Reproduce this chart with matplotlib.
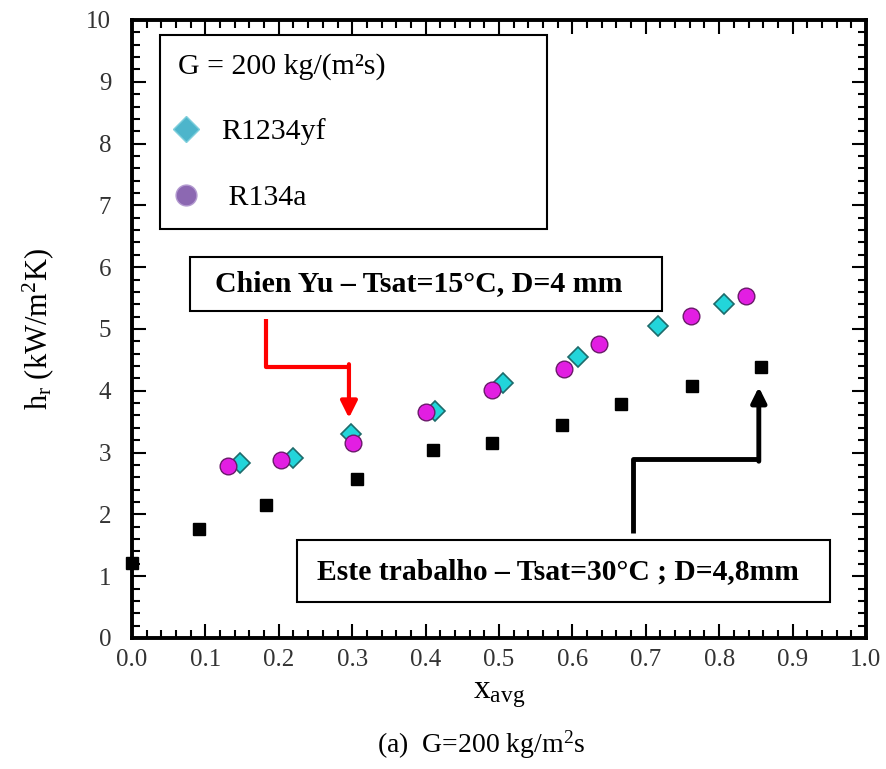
import matplotlib
matplotlib.use("Agg")
import matplotlib.pyplot as plt
from matplotlib.patches import Rectangle
from matplotlib.lines import Line2D
from matplotlib.ticker import MultipleLocator

# Chien Yu data (Tsat=15C, D=4 mm)
x_r1234yf = [0.147, 0.219, 0.298, 0.413, 0.505, 0.608, 0.716, 0.807]
h_r1234yf = [2.83, 2.92, 3.30, 3.68, 4.12, 4.54, 5.05, 5.40]
x_r134a = [0.131, 0.203, 0.301, 0.400, 0.490, 0.588, 0.636, 0.762, 0.836]
h_r134a = [2.78, 2.88, 3.15, 3.65, 4.02, 4.36, 4.76, 5.21, 5.54]
# this work (Tsat=30C, D=4.8 mm)
x_este = [0.0, 0.091, 0.183, 0.307, 0.410, 0.491, 0.586, 0.666, 0.763, 0.857]
h_este = [1.22, 1.76, 2.15, 2.57, 3.04, 3.16, 3.45, 3.78, 4.08, 4.39]

plt.rcParams['font.family'] = ['Liberation Serif', 'DejaVu Serif']
plt.rcParams['mathtext.fontset'] = 'custom'
plt.rcParams['mathtext.rm'] = 'Liberation Serif'
plt.rcParams['mathtext.it'] = 'Liberation Serif'

fig = plt.figure(figsize=(8.87, 7.69), dpi=100)
ax = fig.add_axes([0.1488, 0.1704, 0.8275, 0.8036])

ax.plot(x_r1234yf, h_r1234yf, 'D', ms=10, mfc='#22D5DA', mec='#1E6B6B', mew=1.2, ls='none', zorder=3)
ax.plot(x_r134a, h_r134a, 'o', ms=12, mfc='#E21EE2', mec='#6A1A6A', mew=1.0, ls='none', zorder=4)
ax.plot(x_este, h_este, 's', ms=8, color='black', ls='none', zorder=3, clip_on=False)

ax.set_xlim(0, 1.0)
ax.set_ylim(0, 10)
ax.xaxis.set_major_locator(MultipleLocator(0.1))
ax.xaxis.set_minor_locator(MultipleLocator(0.02))
ax.yaxis.set_major_locator(MultipleLocator(1))
ax.yaxis.set_minor_locator(MultipleLocator(0.2))
ax.set_xticklabels([f"{v:.1f}" for v in ax.get_xticks()])
ax.tick_params(which='both', direction='in', top=True, right=True, width=1.5, labelsize=18, labelcolor='#333333')
ax.tick_params(which='major', length=10, pad=8)
ax.tick_params(which='minor', length=6)
ax.tick_params(axis='y', pad=15)
for s in ax.spines.values():
    s.set_linewidth(2.8)

ax.set_xlabel(r'x$_{\mathrm{avg}}$', fontsize=24, labelpad=6)
ax.set_ylabel(r'h$_{\mathrm{r}}$ (kW/m$^{2}$K)', fontsize=22, labelpad=22)

# legend box
handles = [Line2D([], [], marker='D', ls='none', ms=13, mfc='#4DB5CB', mec='#7FCFDC', mew=1),
           Line2D([], [], marker='o', ls='none', ms=15, mfc='#8C68B2', mec='#B39AD0', mew=1)]
leg = ax.legend(handles, ['R1234yf', ' R134a'], title='G = 200 kg/(m\u00b2s)',
                loc='upper left', bbox_to_anchor=(0.038, 0.672, 0.527, 0.304), mode='expand',
                fontsize=21.5, title_fontsize=21.5, alignment='left', fancybox=False,
                frameon=True, edgecolor='black', framealpha=1, borderpad=0.6,
                labelspacing=1.3, handlelength=0.55, handletextpad=0.9, borderaxespad=0)
leg.get_frame().set_linewidth(1.5)

# annotation boxes
ax.add_patch(Rectangle((0.079, 0.529), 0.643, 0.0875, transform=ax.transAxes,
                       fill=False, ec='black', lw=1.5, zorder=5))
ax.text(0.391, 0.573, 'Chien Yu \u2013 Tsat=15\u00b0C, D=4 mm', transform=ax.transAxes,
        ha='center', va='center', fontsize=21.5, fontweight='bold')
ax.add_patch(Rectangle((0.2248, 0.058), 0.7262, 0.1006, transform=ax.transAxes,
                       fc='white', ec='black', lw=1.5, zorder=5))
ax.text(0.580, 0.108, 'Este trabalho \u2013 Tsat=30\u00b0C ; D=4,8mm', transform=ax.transAxes,
        ha='center', va='center', fontsize=21.3, fontweight='bold', zorder=6)

# red arrow
ax.plot([0.1826, 0.1826, 0.2956], [5.16, 4.385, 4.385], color='red', lw=3, solid_capstyle='butt', zorder=5)
ax.annotate('', xy=(0.2956, 3.56), xytext=(0.2956, 4.43),
            arrowprops=dict(arrowstyle='-|>,head_length=1.0,head_width=0.5', color='red', lw=3,
                            shrinkA=0, shrinkB=0), zorder=5)
# black arrow
ax.plot([0.6826, 0.6826, 0.854], [1.70, 2.90, 2.90], color='black', lw=3.5, solid_capstyle='butt', zorder=5)
ax.annotate('', xy=(0.854, 4.06), xytext=(0.854, 2.86),
            arrowprops=dict(arrowstyle='-|>,head_length=0.9,head_width=0.45', color='black', lw=3.5,
                            shrinkA=0, shrinkB=0), zorder=5)

fig.text(0.543, 0.031, r'(a)  G=200 kg/m$^{2}$s', ha='center', va='center', fontsize=20)

fig.savefig('out.png', dpi=100)
